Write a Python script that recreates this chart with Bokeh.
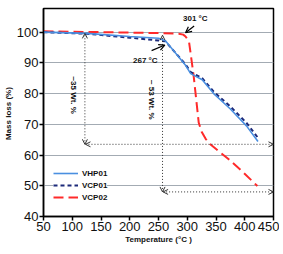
from bokeh.plotting import figure
from bokeh.models import (Legend, LegendItem, Arrow, OpenHead, Label, FixedTicker, Range1d)
from bokeh.embed import file_html
from bokeh.resources import INLINE

# ---- data ----
vhp01_t = [50, 125, 200, 250, 262, 297, 306, 326, 346, 375, 403, 423]
vhp01_v = [100, 99.6, 98.6, 98.0, 97.2, 89.2, 86.5, 84.5, 80.0, 75.0, 69.5, 64.4]

vcp01_t = [50, 125, 200, 250, 262, 297, 306, 326, 346, 375, 403, 423]
vcp01_v = [100, 99.5, 98.2, 97.3, 97.0, 89.5, 87.0, 85.0, 80.6, 75.8, 70.5, 65.6]

vcp02_t = [50, 150, 250, 285, 293, 297, 303, 311, 320, 325, 332, 340, 355, 371, 395, 422]
vcp02_v = [100.3, 100.0, 99.7, 99.5, 99.2, 98.6, 97.0, 86.0, 70.5, 67.6, 65.3, 63.5, 61.2, 58.8, 54.8, 49.9]

series_names = ["VHP01", "VCP01", "VCP02"]
x_ticks = [50, 100, 150, 200, 250, 300, 350, 400, 450]
y_ticks = [40, 50, 60, 70, 80, 90, 100]

# annotation values
wt35_text = "~35 Wt. %"
wt53_text = "~ 53 Wt. %"
peak1_text = "301 °C"
peak2_text = "267 °C"
wt35_x, wt35_top, wt35_bottom = 122, 99.6, 63.5
wt53_x, wt53_top, wt53_bottom = 257, 99.0, 48.0

FONT = "Liberation Sans"

p = figure(frame_width=230, frame_height=208, output_backend="svg", toolbar_location=None,
           x_range=Range1d(50, 450), y_range=Range1d(40, 107.7),
           min_border_left=0, min_border_right=6, min_border_top=8, min_border_bottom=0)

p.outline_line_color = "black"
p.outline_line_width = 1.5
p.background_fill_color = "white"
p.border_fill_color = "white"

# grid
p.xgrid.grid_line_color = None
p.ygrid.ticker = FixedTicker(ticks=[50, 60, 70, 80, 90, 100])
p.ygrid.grid_line_color = "#a3abb3"
p.ygrid.grid_line_width = 1

# axes
p.xaxis.ticker = FixedTicker(ticks=x_ticks)
p.yaxis.ticker = FixedTicker(ticks=y_ticks)
for ax in (p.xaxis[0], p.yaxis[0]):
    ax.axis_line_color = "black"
    ax.axis_line_width = 1.5
    ax.major_tick_line_color = "black"
    ax.major_tick_line_width = 1.5
    ax.major_tick_out = 4
    ax.major_tick_in = 0
    ax.minor_tick_line_color = None
    ax.major_label_text_font = FONT
    ax.major_label_text_font_size = "13px"
    ax.major_label_text_color = "#111111"
    ax.major_label_standoff = 1
    ax.axis_label_text_font = FONT
    ax.axis_label_text_font_style = "bold"
    ax.axis_label_text_font_size = "8px"
    ax.axis_label_text_color = "#111111"
    ax.axis_label_standoff = 1

p.xaxis.axis_label = "Temperature (°C )"
p.yaxis.axis_label = "Mass loss  (%)"

# curves
r_red = p.line(vcp02_t, vcp02_v, line_color="#ff2a2a", line_width=2, line_dash="10 5")
r_navy = p.line(vcp01_t, vcp01_v, line_color="#1c2a7a", line_width=2, line_dash="4 3")
r_blue = p.line(vhp01_t, vhp01_v, line_color="#4a8fe0", line_width=1.6)

legend = Legend(items=[LegendItem(label=series_names[0], renderers=[r_blue]),
                       LegendItem(label=series_names[1], renderers=[r_navy]),
                       LegendItem(label=series_names[2], renderers=[r_red])],
                location=(10, 14), padding=4, spacing=2, margin=0,
                glyph_width=25, glyph_height=10, label_height=10, label_standoff=4,
                label_text_font=FONT, label_text_font_style="bold",
                label_text_font_size="8px", label_text_color="#111111",
                border_line_color=None, background_fill_color="white",
                background_fill_alpha=1.0)
p.add_layout(legend)

# dotted measurement arrows
def head():
    return OpenHead(size=5, line_color="#333333", line_width=1)

for xv, top, bottom in ((wt35_x, wt35_top, wt35_bottom), (wt53_x, wt53_top, wt53_bottom)):
    p.add_layout(Arrow(start=head(), end=head(), x_start=xv, y_start=bottom, x_end=xv, y_end=top,
                       line_color="#333333", line_width=1, line_dash="1 2"))
    p.add_layout(Arrow(start=head(), end=head(), x_start=xv + 1, y_start=bottom, x_end=450, y_end=bottom,
                       line_color="#333333", line_width=1, line_dash="1 2"))

# solid pointer arrows
p.add_layout(Arrow(end=OpenHead(size=6, line_color="black", line_width=1.2), x_start=312, y_start=102,
                   x_end=297, y_end=99.8, line_color="black", line_width=1.2))
p.add_layout(Arrow(end=OpenHead(size=6, line_color="black", line_width=1.2), x_start=238, y_start=94,
                   x_end=261, y_end=95.8, line_color="black", line_width=1.2))

# labels
lab_kw = dict(text_font=FONT, text_font_style="bold", text_font_size="8px", text_color="#111111")
p.add_layout(Label(x=314, y=104.6, text=peak1_text, text_align="center", text_baseline="middle", **lab_kw))
p.add_layout(Label(x=227, y=90.7, text=peak2_text, text_align="center", text_baseline="middle", **lab_kw))
p.add_layout(Label(x=103, y=79.5, text=wt35_text, angle=-1.5708, text_align="center", text_baseline="middle", **lab_kw))
p.add_layout(Label(x=237, y=78, text=wt53_text, angle=-1.5708, text_align="center", text_baseline="middle", **lab_kw))

open("out.html", "w").write(file_html(p, INLINE))
